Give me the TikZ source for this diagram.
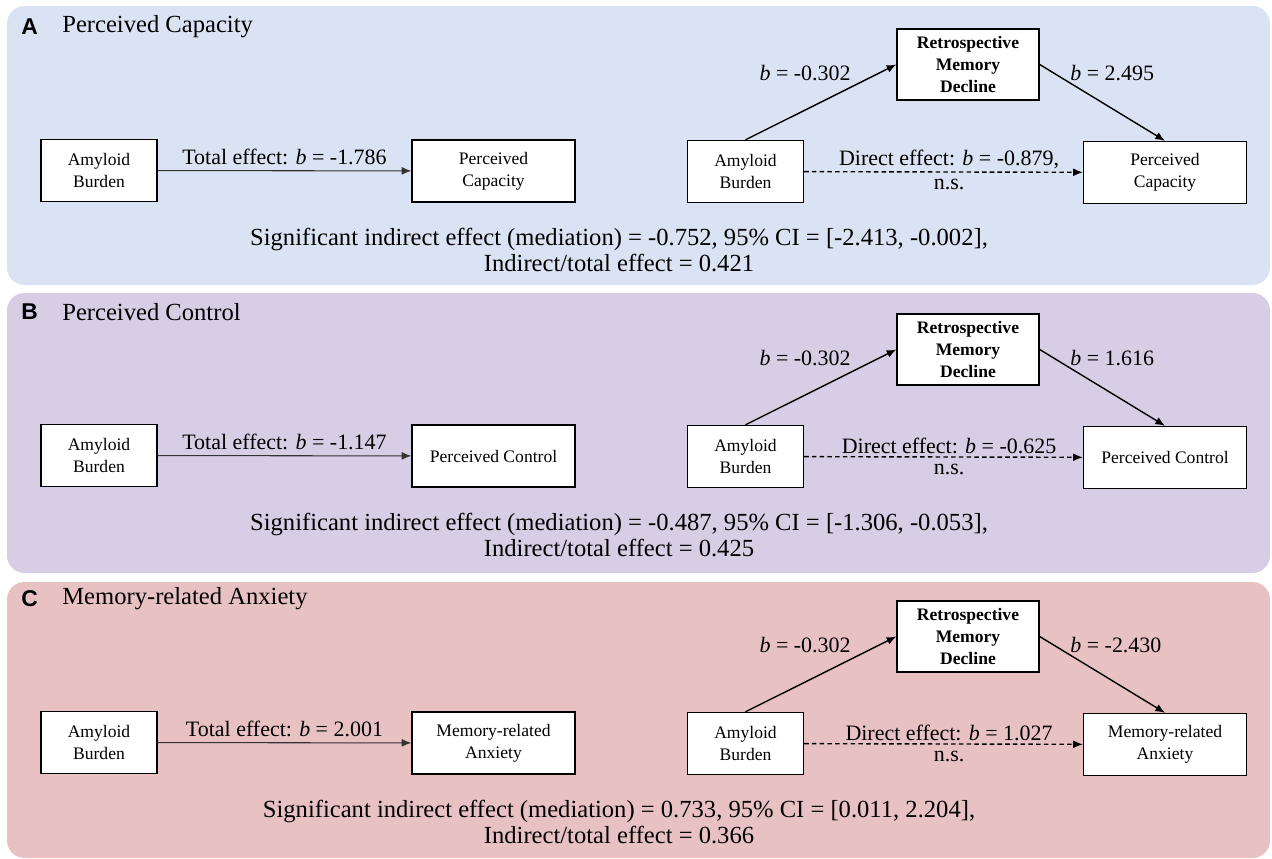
\documentclass[tikz,border=0pt]{standalone}
\usepackage{fontspec}
\setmainfont{Liberation Serif}
\newfontfamily\panelsf{Liberation Sans}
\usetikzlibrary{arrows.meta}

\definecolor{panelA}{HTML}{DAE3F3}
\definecolor{panelB}{HTML}{D7CDE5}
\definecolor{panelC}{HTML}{E8C1C3}

\tikzset{
  varbox/.style={draw, line width=0.8pt, fill=white, align=center, inner sep=0pt,
    font=\fontsize{10}{12.5}\selectfont},
  amybox/.style={varbox, minimum width=2.32cm, minimum height=1.24cm},
  outbox/.style={varbox, minimum width=3.26cm, minimum height=1.24cm},
  medbox/.style={varbox, minimum width=2.84cm, minimum height=1.42cm,
    font=\fontsize{10}{12.5}\selectfont\bfseries},
  coef/.style={inner sep=0pt, text=black, font=\fontsize{12.5}{14}\selectfont},
  ptitle/.style={inner sep=0pt, anchor=west, font=\fontsize{14}{16}\selectfont},
  pletter/.style={inner sep=0pt, anchor=west, font=\panelsf\bfseries\fontsize{13}{15}\selectfont},
  summary/.style={inner sep=0pt, align=center, font=\fontsize{14}{14.8}\selectfont},
  totarrow/.style={->, line width=0.6pt, draw=black!80},
  patharrow/.style={->, line width=0.8pt},
  dirarrow/.style={->, line width=0.8pt, dash pattern=on 2.6pt off 1.8pt}
}

\begin{document}
\begin{tikzpicture}[x=0.02cm, y=-0.02cm, >={Latex[length=5.5pt,width=4.5pt]}]
  \useasboundingbox (0,0) rectangle (1272,859);
  % un panneau par issue
  \foreach \oy/\ptop/\pbot/\pcol/\plet/\pname/\pout/\ptot/\pbb/\pdir/\pind/\pci/\prat in {
    0/6/285/panelA/A/{Perceived Capacity}/{Perceived\\Capacity}/-1.786/2.495/{-0.879,}/-0.752/{[-2.413, -0.002]}/0.421,
    285/293/573/panelB/B/{Perceived Control}/{Perceived Control}/-1.147/1.616/-0.625/-0.487/{[-1.306, -0.053]}/0.425,
    572/582/858/panelC/C/{Memory-related Anxiety}/{Memory-related\\Anxiety}/2.001/-2.430/1.027/0.733/{[0.011, 2.204]}/0.366}
  {
    \fill [fill=\pcol, rounded corners=0.35cm] (7,\ptop) rectangle (1270,\pbot);
    \node [pletter] (let\plet) at (21,\oy+27) {\plet};
    \node [ptitle] (name\plet) at (62,\oy+27) {\pname};

    % effet total
    \node [amybox] (amyL\plet) at (99,\oy+170.5) {Amyloid\\Burden};
    \node [outbox] (outL\plet) at (493.5,\oy+171) {\pout};
    \draw [totarrow] (amyL\plet) -- node [coef, midway, above=0.1cm] {Total effect: \textit{b} = \ptot} (outL\plet);

    % mediation
    \node [amybox] (amyR\plet) at (745.5,\oy+171.5) {Amyloid\\Burden};
    \node [medbox] (med\plet) at (968,\oy+64.5) {Retrospective\\Memory\\Decline};
    \node [outbox] (outR\plet) at (1165,\oy+172.5) {\pout};
    \draw [patharrow] (amyR\plet.north) -- (med\plet.west);
    \draw [patharrow] (med\plet.east) -- (outR\plet.north);
    \draw [dirarrow] (amyR\plet) -- node [coef, pos=0.52, above=0.04cm] {Direct effect: \textit{b} = \pdir}
      node [coef, pos=0.52, below=0.12cm] {n.s.} (outR\plet);
    \node [coef, anchor=east] (ba\plet) at (851,\oy+73) {\textit{b} = -0.302};
    \node [coef, anchor=west] (bb\plet) at (1070,\oy+73) {\textit{b} = \pbb};

    \node [summary] (sum\plet) at (619,\oy+250) {Significant indirect effect (mediation) = \pind, 95\% CI = \pci,\\Indirect/total effect = \prat};
  }
\end{tikzpicture}
\end{document}
